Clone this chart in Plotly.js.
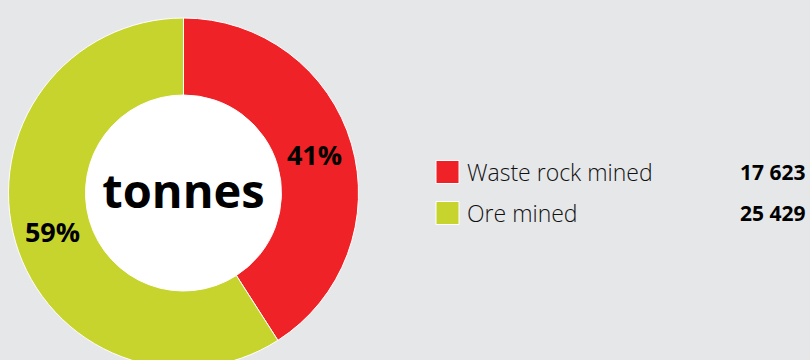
<!DOCTYPE html>
<html>
<head>
<meta charset="utf-8">
<script src="https://cdn.plot.ly/plotly-3.0.1.min.js"></script>
<style>
html,body{margin:0;padding:0;overflow:hidden;background:#e6e7e9;}
#chart{width:810px;height:386px;}
</style>
</head>
<body>
<div id="chart"></div>
<script>
// Data
var categories = ["Waste rock mined", "Ore mined"];
var values = [17623, 25429];
var valueLabels = ["17 623", "25 429"];
var colors = ["#ee2227", "#c8d42e"];
var centerLabel = "tonnes";

var W = 810, H = 386;
var cx = 183.5, cy = 193, R = 175, HOLE = 0.56;

var FONT = "Open Sans, Noto Sans, sans-serif";

var trace = {
  type: "pie",
  labels: categories,
  values: values,
  hole: HOLE,
  sort: false,
  direction: "clockwise",
  rotation: 0,
  marker: {colors: colors, line: {color: "#ffffff", width: 1}},
  textinfo: "percent",
  texttemplate: "%{percent:.0%}",
  textposition: "inside",
  insidetextorientation: "horizontal",
  insidetextfont: {family: FONT, size: 27, color: "#000000", weight: 700},
  hoverinfo: "none",
  showlegend: false,
  domain: {x: [(cx - R) / W, (cx + R) / W], y: [(H - cy - R) / H, (H - cy + R) / H]},
  title: {text: "<b>" + centerLabel + "</b>", position: "middle center", font: {family: FONT, size: 47, color: "#000000"}}
};

// white disc behind the donut hole
var r = R * HOLE;
var shapes = [{
  type: "circle", xref: "paper", yref: "paper", layer: "below",
  x0: (cx - r) / W, x1: (cx + r) / W,
  y0: 1 - (cy + r) / H, y1: 1 - (cy - r) / H,
  fillcolor: "#ffffff", line: {width: 0}
}];
var annotations = [];

// legend drawn from the data arrays
var rowY = [172, 213], swX0 = 436, swSize = 23;
for (var i = 0; i < categories.length; i++) {
  var y = rowY[i];
  shapes.push({
    type: "rect", xref: "paper", yref: "paper",
    x0: swX0 / W, x1: (swX0 + swSize) / W,
    y0: 1 - (y + swSize / 2) / H, y1: 1 - (y - swSize / 2) / H,
    fillcolor: colors[i], line: {color: "#ffffff", width: 1}
  });
  annotations.push({
    xref: "paper", yref: "paper", x: 465 / W, y: 1 - y / H,
    xanchor: "left", yanchor: "middle", showarrow: false,
    text: categories[i], font: {family: FONT, size: 23, color: "#111111", weight: 300}
  });
  annotations.push({
    xref: "paper", yref: "paper", x: 808 / W, y: 1 - y / H,
    xanchor: "right", yanchor: "middle", showarrow: false,
    text: "<b>" + valueLabels[i] + "</b>", font: {family: FONT, size: 21, color: "#000000"}
  });
}

var layout = {
  width: W, height: H,
  margin: {l: 0, r: 0, t: 0, b: 0},
  paper_bgcolor: "#e6e7e9",
  plot_bgcolor: "#e6e7e9",
  showlegend: false,
  shapes: shapes,
  annotations: annotations
};

Plotly.newPlot("chart", [trace], layout, {displayModeBar: false, staticPlot: true});
</script>
</body>
</html>
